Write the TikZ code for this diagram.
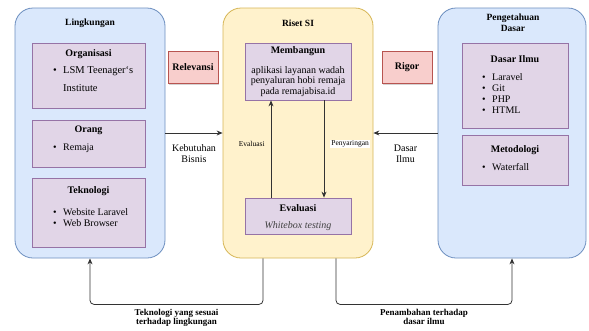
\documentclass[tikz,border=0pt]{standalone}
\usepackage{fontspec}
\setmainfont{Liberation Serif}
\usetikzlibrary{arrows.meta,shadows}

\definecolor{biruIsi}{HTML}{DAE8FC}
\definecolor{biruGaris}{HTML}{6C8EBF}
\definecolor{kuningIsi}{HTML}{FFF2CC}
\definecolor{kuningGaris}{HTML}{D6B656}
\definecolor{unguIsi}{HTML}{E1D5E7}
\definecolor{unguGaris}{HTML}{9673A6}
\definecolor{merahIsi}{HTML}{F8CECC}
\definecolor{merahGaris}{HTML}{B85450}

\newcommand{\itm}[1]{\makebox[10pt][l]{\textbullet}#1}

\begin{document}
\begin{tikzpicture}[x=1pt,y=-1pt,
  wadah/.style={draw=biruGaris, fill=biruIsi, rounded corners=18pt, line width=0.8pt},
  tengah/.style={draw=kuningGaris, fill=kuningIsi, rounded corners=18pt, line width=0.8pt},
  kotak/.style={draw=unguGaris, fill=unguIsi, line width=0.8pt},
  merah/.style={draw=merahGaris, fill=merahIsi, line width=0.8pt,
    drop shadow={shadow xshift=1pt, shadow yshift=-1.5pt, opacity=0.35},
    font=\fontsize{10}{11}\selectfont\bfseries},
  judul/.style={font=\fontsize{9.5}{11}\selectfont\bfseries, align=center},
  subjudul/.style={font=\fontsize{10}{11}\selectfont\bfseries},
  isi/.style={font=\fontsize{10}{11}\selectfont, align=left, anchor=north west, inner sep=0pt},
  panah/.style={draw=black!80, line width=0.8pt, -{Stealth[length=6pt,width=5pt]}},
  ket/.style={font=\fontsize{10}{11}\selectfont, align=center},
  ketkecil/.style={font=\fontsize{7.5}{9}\selectfont, inner sep=1pt},
  ketbawah/.style={font=\fontsize{9}{9.5}\selectfont\bfseries, align=center, inner sep=1pt}
]
\useasboundingbox (0,0) rectangle (589,330);

% lingkungan
\node[wadah, minimum width=150, minimum height=250] (ling) at (90,133) {};
\node[judul] (ling-t) at (90,23) {Lingkungan};

\node[kotak, minimum width=113, minimum height=65] (org) at (88.5,75.5) {};
\node[subjudul] (org-t) at (88.5,54) {Organisasi};
\node[anchor=north west, inner sep=0pt, font=\fontsize{10.5}{11}\selectfont] (org-i) at (53,65.5)
  {\begin{tabular}{@{}p{10pt}@{}l@{}}\textbullet & LSM Teenager`s\\[7pt] & Institute\end{tabular}};

\node[kotak, minimum width=113, minimum height=47] (orang) at (88.5,143.5) {};
\node[subjudul] (orang-t) at (88.5,130) {Orang};
\node[isi] (orang-i) at (53,143.5) {\itm{Remaja}};

\node[kotak, minimum width=113, minimum height=69] (tek) at (88.5,212.5) {};
\node[subjudul] (tek-t) at (88.5,191) {Teknologi};
\node[isi] (tek-i) at (53,208.5) {\itm{Website Laravel}\\ \itm{Web Browser}};

% riset SI
\node[tengah, minimum width=150, minimum height=250] (riset) at (298,133) {};
\node[judul] (riset-t) at (298,23) {Riset SI};

\node[kotak, minimum width=106, minimum height=57] (bangun) at (298,71.5) {};
\node[subjudul] (bangun-t) at (298,51) {Membangun};
\node[ket, font=\fontsize{10}{10.5}\selectfont] (bangun-i) at (298,81.5) {aplikasi layanan wadah\\ penyaluran hobi remaja\\ pada remajabisa.id};

\node[kotak, minimum width=106, minimum height=36] (eval) at (298,216) {};
\node[subjudul] (eval-t) at (298,208) {Evaluasi};
\node[font=\fontsize{10}{11}\selectfont\itshape, text=black!75] (eval-i) at (298,226) {Whitebox testing};

% pengetahuan dasar
\node[wadah, minimum width=148, minimum height=250] (peng) at (512,133) {};
\node[judul, font=\fontsize{9.5}{11}\selectfont\bfseries] (peng-t) at (513,22.5) {Pengetahuan\\ Dasar};

\node[kotak, minimum width=106, minimum height=85] (ilmu) at (515,85.5) {};
\node[subjudul] (ilmu-t) at (515,59) {Dasar Ilmu};
\node[isi] (ilmu-i) at (482,73.5) {\itm{Laravel}\\ \itm{Git}\\ \itm{PHP}\\ \itm{HTML}};

\node[kotak, minimum width=106, minimum height=50] (metode) at (515,160) {};
\node[subjudul] (metode-t) at (515,150) {Metodologi};
\node[isi] (metode-i) at (482,163.5) {\itm{Waterfall}};

% relevansi dan rigor
\node[merah, minimum width=50, minimum height=32] (rel) at (193,67) {Relevansi};
\node[merah, minimum width=50, minimum height=32] (rigor) at (407,67) {Rigor};

% panah
\draw[panah] (ling.east) -- node[ket, below=8pt] {Kebutuhan\\ Bisnis} (riset.west);
\draw[panah] (peng.west) -- node[ket, below=8pt] {Dasar\\ Ilmu} (riset.east);

\draw[panah] ([xshift=-27pt]eval.north) -- node[ketkecil, pos=0.55, left=5pt] {Evaluasi} ([xshift=-27pt]bangun.south);
\draw[panah] ([xshift=26pt]bangun.south) -- node[ketkecil, fill=white, pos=0.45, right=6pt] {Penyaringan} ([xshift=26pt]eval.north);

\draw[panah, rounded corners=4pt] ([xshift=-35pt]riset.south) -- ++(0,46)
  -| node[ketbawah, pos=0.25, below=3pt] {Teknologi yang sesuai\\ terhadap lingkungan} (ling.south);
\draw[panah, rounded corners=4pt] ([xshift=38pt]riset.south) -- ++(0,46)
  -| node[ketbawah, pos=0.25, below=3pt] {Penambahan terhadap\\ dasar ilmu} (peng.south);

\end{tikzpicture}
\end{document}
